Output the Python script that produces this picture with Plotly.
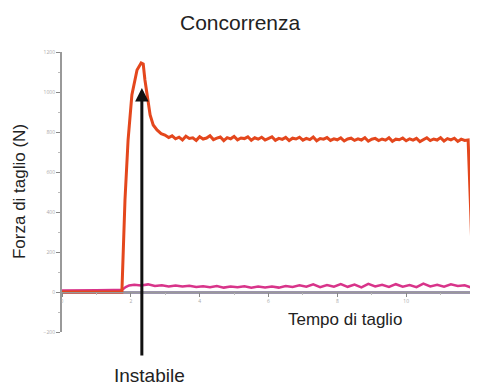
import plotly.graph_objects as go

# Cutting force vs cutting time (competitor tool)
T_ORANGE = [0.0, 1.0, 1.74, 1.83, 1.92, 2.03, 2.18, 2.30, 2.36, 2.41, 2.48, 2.56, 2.65, 2.76, 2.88, 2.99,
            3.1, 3.2, 3.3, 3.4, 3.5, 3.6, 3.7, 3.8, 3.9, 4.0, 4.1, 4.2, 4.3, 4.4, 4.5, 4.6, 4.7, 4.8, 4.9,
            5.0, 5.1, 5.2, 5.3, 5.4, 5.5, 5.6, 5.7, 5.8, 5.9, 6.0, 6.1, 6.2, 6.3, 6.4, 6.5, 6.6, 6.7, 6.8,
            6.9, 7.0, 7.1, 7.2, 7.3, 7.4, 7.5, 7.6, 7.7, 7.8, 7.9, 8.0, 8.1, 8.2, 8.3, 8.4, 8.5, 8.6, 8.7,
            8.8, 8.9, 9.0, 9.1, 9.2, 9.3, 9.4, 9.5, 9.6, 9.7, 9.8, 9.9, 10.0, 10.1, 10.2, 10.3, 10.4, 10.5,
            10.6, 10.7, 10.8, 10.9, 11.0, 11.1, 11.2, 11.3, 11.4, 11.5, 11.6, 11.7, 11.8, 11.88, 11.95, 12.0]
F_ORANGE = [0, 0, 0, 460, 760, 985, 1110, 1145, 1140, 1060, 975, 885, 835, 810, 792, 785,
            772, 781, 766, 774, 760, 779, 768, 771, 758, 776, 765, 770, 781, 762, 769, 775, 757, 772, 766,
            778, 761, 770, 767, 776, 759, 771, 764, 774, 760, 769, 776, 758, 768, 763, 773, 757, 769, 765,
            774, 759, 768, 762, 775, 756, 767, 764, 772, 758, 766, 761, 771, 755, 765, 769, 758, 766, 760,
            772, 754, 764, 768, 757, 765, 759, 771, 753, 764, 761, 770, 756, 766, 759, 768, 752, 763,
            771, 757, 765, 760, 772, 755, 767, 761, 769, 753, 764, 758, 760, 380, 0, 0]

T_PINK = [0.0, 0.5, 1.0, 1.5, 1.74, 1.85, 1.95, 2.1, 2.3, 2.5, 2.7, 2.9, 3.1, 3.3, 3.5, 3.7, 3.9, 4.1,
          4.3, 4.5, 4.7, 4.9, 5.1, 5.3, 5.5, 5.7, 5.9, 6.1, 6.3, 6.5, 6.7, 6.9, 7.1, 7.3, 7.5, 7.7, 7.9,
          8.1, 8.3, 8.5, 8.7, 8.9, 9.1, 9.3, 9.5, 9.7, 9.9, 10.1, 10.3, 10.5, 10.7, 10.9, 11.1, 11.3,
          11.5, 11.7, 11.9, 12.0]
F_PINK = [8, 10, 9, 10, 10, 25, 33, 36, 32, 38, 30, 34, 28, 33, 27, 31, 25, 29,
          24, 30, 22, 28, 24, 29, 21, 27, 23, 28, 22, 30, 25, 33, 26, 38, 24, 35, 27,
          40, 26, 37, 23, 41, 28, 36, 25, 39, 27, 35, 24, 42, 28, 36, 26, 38,
          30, 34, 22, 20]

T_DARK = [0, 2, 4, 6, 8, 10, 12]
F_DARK = [-2, -3, -1, -3, -2, -1, -2]

X_TICKS = [0, 2, 4, 6, 8, 10, 12]
X_LABELS = ["0", "2", "4", "6", "8", "10", ""]
Y_TICKS = [-200, 0, 200, 400, 600, 800, 1000, 1200]

FONT = "Liberation Sans, Arial, sans-serif"

fig = go.Figure()

fig.add_trace(go.Scatter(x=T_DARK, y=F_DARK, mode="lines",
                         line=dict(color="#3b2d5c", width=2), hoverinfo="skip"))
fig.add_trace(go.Scatter(x=T_PINK, y=F_PINK, mode="lines", cliponaxis=False,
                         line=dict(color="#d8348a", width=2.5), hoverinfo="skip"))
fig.add_trace(go.Scatter(x=T_ORANGE, y=F_ORANGE, mode="lines", cliponaxis=False,
                         line=dict(color="#e4471d", width=3), hoverinfo="skip"))

# Arrow pointing at the unstable peak
fig.add_annotation(x=2.32, y=1020, xref="x", yref="y", text="",
                   showarrow=True, arrowhead=2, arrowsize=0.9, arrowwidth=3,
                   arrowcolor="#111111", ax=0, ay=269)

txt = dict(xref="paper", yref="paper", showarrow=False, xanchor="center", yanchor="middle")
fig.add_annotation(x=0.213, y=-0.157, text="Instabile",
                   font=dict(family=FONT, size=19, color="#222"), **txt)
fig.add_annotation(x=0.431, y=1.107, text="Concorrenza",
                   font=dict(family=FONT, size=21, color="#222"), **txt)
fig.add_annotation(x=0.686, y=0.043, text="Tempo di taglio",
                   font=dict(family=FONT, size=17, color="#222"), **txt)
fig.add_annotation(x=-0.104, y=0.5, text="Forza di taglio (N)", textangle=-90,
                   font=dict(family=FONT, size=17, color="#222"), **txt)

# the page puts the figure 8px in from the top-left corner
fig.update_layout(
    width=470, height=377,
    margin=dict(l=54, r=3, t=44, b=53),
    plot_bgcolor="white", paper_bgcolor="white",
    showlegend=False,
    xaxis=dict(range=[0, 12], tickvals=X_TICKS, ticktext=X_LABELS, showgrid=False, zeroline=False,
               showline=True, linecolor="#999", linewidth=1,
               anchor="free", position=200 / 1400,
               ticks="outside", ticklen=4, tickcolor="#888",
               tickfont=dict(size=5, color="#aaa"),
               minor=dict(ticks="outside", ticklen=2, dtick=1, tickcolor="#bbb")),
    yaxis=dict(range=[-200, 1200], tickvals=Y_TICKS, showgrid=False, zeroline=False,
               showline=True, linecolor="#999", linewidth=2,
               ticks="outside", ticklen=4, tickcolor="#888",
               tickfont=dict(size=5, color="#aaa"),
               minor=dict(ticks="outside", ticklen=2, dtick=100, tickcolor="#bbb")),
)

fig.write_html("out.html")
